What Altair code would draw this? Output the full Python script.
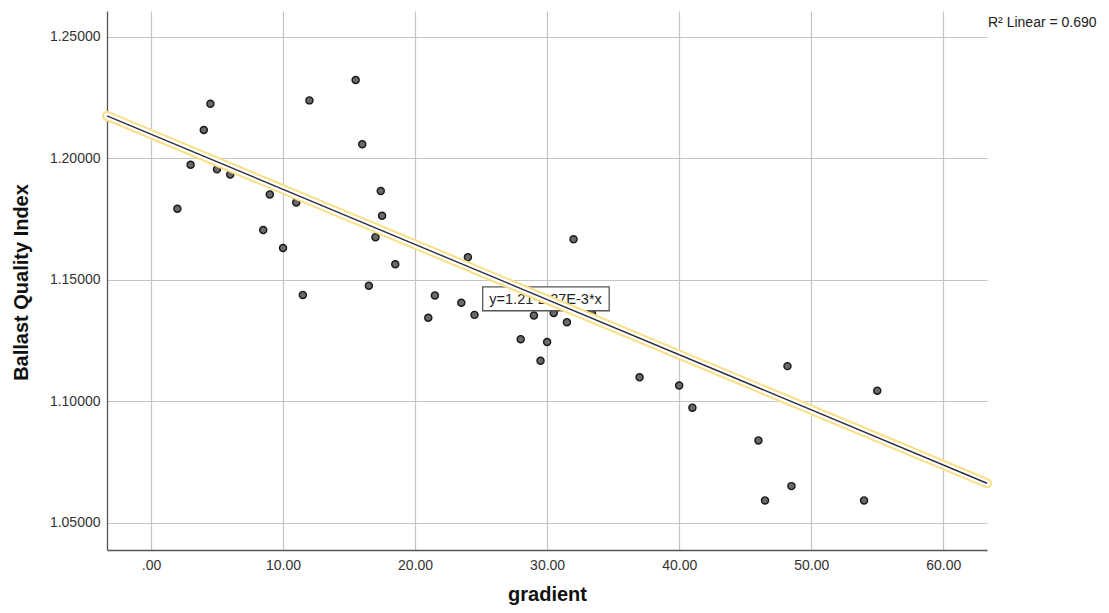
import altair as alt
import pandas as pd

gradient = [2.0, 3.0, 4.0, 4.5, 5.0, 6.0, 8.5, 9.0, 10.0, 11.0, 11.5, 12.0,
            15.5, 16.0, 16.5, 17.0, 17.4, 17.5, 18.5, 21.0, 21.5, 23.5, 24.0,
            24.5, 28.0, 29.0, 29.5, 30.0, 30.5, 31.5, 32.0, 33.4, 37.0, 40.0,
            41.0, 46.0, 46.5, 48.2, 48.5, 54.0, 55.0]
bqi = [1.1793, 1.1974, 1.2117, 1.2225, 1.1955, 1.1934, 1.1705, 1.1852,
       1.1631, 1.1819, 1.1438, 1.2239, 1.2323, 1.2058, 1.1476, 1.1676,
       1.1866, 1.1764, 1.1564, 1.1344, 1.1436, 1.1406, 1.1593, 1.1356,
       1.1256, 1.1353, 1.1167, 1.1244, 1.1364, 1.1326, 1.1667, 1.1361,
       1.1099, 1.1065, 1.0974, 1.0839, 1.0592, 1.1145, 1.0651, 1.0592,
       1.1044]

# Fit line as reported in the chart: y = 1.21 - 2.27E-3 * x
fit_intercept = 1.2100
fit_slope = -0.00227
x_domain = [-3.33, 63.31]
y_domain = [1.0388, 1.2607]
x_ticks = [0, 10, 20, 30, 40, 50, 60]
y_ticks = [1.05, 1.10, 1.15, 1.20, 1.25]

eq_label = "y=1.21-2.27E-3*x"
eq_pos = [29.88, 1.1419]
eq_box_x = [25.12, 34.70]
eq_box_y = [1.1373, 1.1471]
r2_label = "R² Linear = 0.690"

pts = pd.DataFrame({"gradient": gradient, "bqi": bqi})
fit = pd.DataFrame({"gradient": x_domain,
                    "bqi": [fit_intercept + fit_slope * v for v in x_domain]})
box = pd.DataFrame({"x": [eq_box_x[0]], "x2": [eq_box_x[1]],
                    "y": [eq_box_y[0]], "y2": [eq_box_y[1]]})
lab = pd.DataFrame({"x": [eq_pos[0]], "y": [eq_pos[1]], "t": [eq_label]})

FONT = "Liberation Sans"

xscale = alt.Scale(domain=x_domain, nice=False, zero=False)
yscale = alt.Scale(domain=y_domain, nice=False, zero=False)

xaxis = alt.Axis(values=x_ticks, title="gradient",
                 labelExpr="datum.value == 0 ? '.00' : format(datum.value, '.2f')",
                 ticks=False, labelPadding=8, titleX=440, titleY=50,
                 titleBaseline="alphabetic", titleAlign="center")
yaxis = alt.Axis(values=y_ticks, title="Ballast Quality Index", format=".5f",
                 ticks=False, labelPadding=7, titleX=-86, titleY=271,
                 titleAngle=-90, titleBaseline="middle", titleAlign="center")

points = alt.Chart(pts).mark_point(
    shape="circle", filled=True, size=50, fill="#6a6a6a", stroke="#1a1a1a",
    strokeWidth=1.4, opacity=1
).encode(
    x=alt.X("gradient:Q", scale=xscale, axis=xaxis),
    y=alt.Y("bqi:Q", scale=yscale, axis=yaxis),
)

rect = alt.Chart(box).mark_rect(fill="white", stroke="#555555", strokeWidth=1.3).encode(
    x=alt.X("x:Q", scale=xscale), x2="x2:Q",
    y=alt.Y("y:Q", scale=yscale), y2="y2:Q",
)

text = alt.Chart(lab).mark_text(font=FONT, fontSize=14.5, color="#222222",
                                align="center", baseline="middle").encode(
    x=alt.X("x:Q", scale=xscale), y=alt.Y("y:Q", scale=yscale), text="t:N"
)

halo = alt.Chart(fit).mark_line(color="#f9df86", strokeWidth=10,
                                strokeCap="round", clip=False).encode(
    x=alt.X("gradient:Q", scale=xscale), y=alt.Y("bqi:Q", scale=yscale)
)
halo_in = alt.Chart(fit).mark_line(color="white", strokeWidth=6,
                                   strokeCap="round", clip=False).encode(
    x=alt.X("gradient:Q", scale=xscale), y=alt.Y("bqi:Q", scale=yscale)
)
line = alt.Chart(fit).mark_line(color="#2e2e40", strokeWidth=1.4).encode(
    x=alt.X("gradient:Q", scale=xscale), y=alt.Y("bqi:Q", scale=yscale)
)

r2 = alt.Chart(pd.DataFrame({"t": [r2_label]})).mark_text(
    font=FONT, fontSize=14, color="#222222", align="left", baseline="middle"
).encode(x=alt.value(881), y=alt.value(12), text="t:N")

chart = alt.layer(points, rect, text, halo, halo_in, line, r2).properties(
    width=880, height=539,
    autosize=alt.AutoSizeParams(type="none"),
    padding={"left": 99, "top": 3, "right": 114, "bottom": 55},
    background="white",
).configure_view(stroke=None).configure_axis(
    labelFont=FONT, labelFontSize=14, labelColor="#333333",
    titleFont=FONT, titleFontSize=20, titleFontWeight="bold", titleColor="#111111",
    gridColor="#c4c4c4", gridWidth=1.2, domainColor="#555555", domainWidth=1.3,
)

chart.save("out.html", embed_options={"renderer": "svg", "actions": False})
